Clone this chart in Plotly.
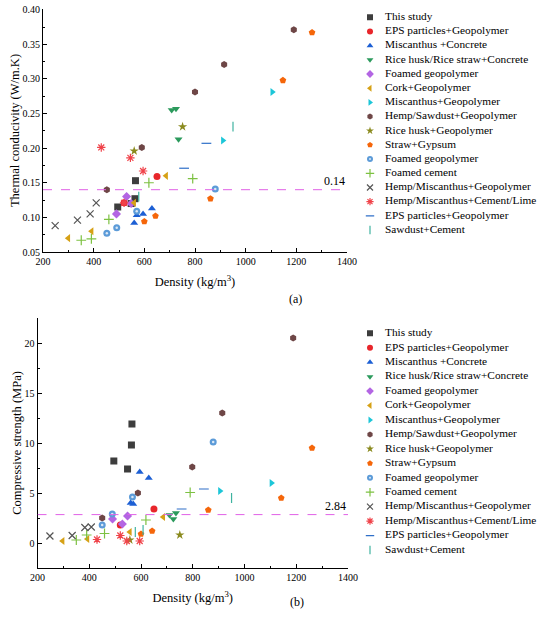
import plotly.graph_objects as go

# legend names, marker symbols and colours (same order in both panels)
names = [
    "This study",
    "EPS particles+Geopolymer",
    "Miscanthus +Concrete",
    "Rice husk/Rice straw+Concrete",
    "Foamed geopolymer",
    "Cork+Geopolymer",
    "Miscanthus+Geopolymer",
    "Hemp/Sawdust+Geopolymer",
    "Rice husk+Geopolymer",
    "Straw+Gypsum",
    "Foamed geopolymer",
    "Foamed cement",
    "Hemp/Miscanthus+Geopolymer",
    "Hemp/Miscanthus+Cement/Lime",
    "EPS particles+Geopolymer",
    "Sawdust+Cement",
]
symbols = ["square", "circle", "triangle-up", "triangle-down", "diamond", "triangle-left",
           "triangle-right", "hexagon", "star", "pentagon", "circle", "cross-thin",
           "x-thin", "asterisk", "line-ew", "line-ns"]
colors = ["#3d3d3d", "#e8262b", "#1c5fd4", "#2b9a5c", "#b365e3", "#d6a116",
          "#1cc6d8", "#6e4646", "#8a8a1e", "#f5660a", "#5c9bd8", "#7dc142",
          "#555555", "#f0434a", "#2f6fc8", "#3fb3a0"]

# (a) thermal conductivity vs density
tc_x = [
    [495, 548, 563, 565],
    [520, 650],
    [560, 570, 595, 630],
    [708, 725, 735],
    [490, 530, 548],
    [300, 392, 560, 686],
    [910, 1105],
    [452, 590, 800, 915, 1190],
    [560, 751],
    [600, 644, 861, 1147, 1262],
    [452, 491, 570, 880],
    [351, 391, 460, 618, 791],
    [248, 336, 386, 410],
    [430, 520, 545, 595],
    [757, 845],
    [578, 950],
]
tc_y = [
    [0.115, 0.120, 0.127, 0.153],
    [0.121, 0.159],
    [0.092, 0.103, 0.105, 0.113],
    [0.255, 0.257, 0.213],
    [0.105, 0.130, 0.120],
    [0.070, 0.080, 0.121, 0.160],
    [0.211, 0.281],
    [0.140, 0.201, 0.281, 0.321, 0.371],
    [0.196, 0.231],
    [0.094, 0.102, 0.127, 0.298, 0.367],
    [0.077, 0.085, 0.109, 0.141],
    [0.067, 0.069, 0.097, 0.150, 0.156],
    [0.088, 0.096, 0.105, 0.121],
    [0.201, 0.121, 0.186, 0.167],
    [0.171, 0.207],
    [0.130, 0.231],
]

# (b) compressive strength vs density
cs_x = [
    [495, 548, 563, 565],
    [520, 650],
    [560, 570, 595, 630],
    [710, 725, 735],
    [490, 528, 548],
    [297, 393, 557, 686],
    [905, 1104],
    [450, 588, 798, 914, 1188],
    [557, 750],
    [600, 643, 860, 1142, 1261],
    [450, 489, 567, 879],
    [350, 390, 459, 619, 790],
    [248, 334, 383, 408],
    [430, 520, 545, 595],
    [757, 843],
    [578, 608, 950],
]
cs_y = [
    [8.2, 7.4, 9.8, 11.9],
    [1.8, 3.4],
    [4.0, 3.9, 7.1, 6.5],
    [2.8, 2.4, 3.0],
    [2.4, 1.9, 2.7],
    [0.2, 0.4, 1.1, 2.6],
    [5.2, 6.0],
    [2.5, 5.0, 7.6, 13.0, 20.5],
    [0.3, 0.8],
    [0.9, 1.2, 3.3, 4.5, 9.5],
    [1.8, 2.9, 4.6, 10.1],
    [0.3, 0.8, 0.95, 2.3, 5.05],
    [0.7, 0.75, 1.55, 1.6],
    [0.35, 0.75, 0.2, 0.2],
    [3.4, 5.4],
    [1.1, 1.3, 4.5],
]

tc_ref = 0.14
cs_ref = 2.84

FONT = "Liberation Serif, Times New Roman, serif"

# page body margin is removed below, so the figure fills the window
W, H = 550, 627


def px(fx):
    return fx / W


def py(fy):
    return 1 - fy / H


thin = {"cross-thin", "x-thin", "asterisk", "line-ew", "line-ns"}
line_w = [1.2 if s in thin else 0 for s in symbols]
dot_idx = 10  # blue foamed geopolymer has a light centre

fig = go.Figure()

for xs, ys, xa, ya in [(tc_x, tc_y, "x", "y"), (cs_x, cs_y, "x2", "y2")]:
    for i, name in enumerate(names):
        fig.add_trace(go.Scatter(
            x=xs[i], y=ys[i], mode="markers", name=name, xaxis=xa, yaxis=ya,
            marker=dict(symbol=symbols[i], size=7, color=colors[i],
                        line=dict(color=colors[i], width=line_w[i])),
        ))
        if i == dot_idx:
            fig.add_trace(go.Scatter(
                x=xs[i], y=ys[i], mode="markers", xaxis=xa, yaxis=ya, hoverinfo="skip",
                marker=dict(symbol="circle", size=2.5, color="#dbe8f6"),
            ))

# legends drawn on their own little axes
rows = list(range(len(names)))
for xa, ya in [("x3", "y3"), ("x4", "y4")]:
    fig.add_trace(go.Scatter(
        x=[20] * len(names), y=rows, mode="markers", xaxis=xa, yaxis=ya, hoverinfo="skip",
        marker=dict(symbol=symbols, size=6, color=colors, line=dict(color=colors, width=line_w)),
    ))
    fig.add_trace(go.Scatter(
        x=[20], y=[dot_idx], mode="markers", xaxis=xa, yaxis=ya, hoverinfo="skip",
        marker=dict(symbol="circle", size=2, color="#dbe8f6"),
    ))
    fig.add_trace(go.Scatter(
        x=[35] * len(names), y=rows, mode="text", text=names, textposition="middle right",
        xaxis=xa, yaxis=ya, hoverinfo="skip", cliponaxis=False,
        textfont=dict(family=FONT, size=11.3, color="black"),
    ))

axis_style = dict(showline=True, linecolor="black", linewidth=1, ticks="inside", ticklen=4,
                  tickcolor="black", showgrid=False, zeroline=False, mirror=False,
                  automargin=False, ticklabeloverflow="allow", tickfont=dict(family=FONT, size=10))
title_font = dict(family=FONT, size=12.5, color="black")
hidden = dict(visible=False, showgrid=False, zeroline=False, automargin=False)

fig.update_layout(
    width=W, height=H,
    margin=dict(l=0, r=0, t=0, b=0, pad=0, autoexpand=False),
    paper_bgcolor="white", plot_bgcolor="white",
    font=dict(family=FONT, size=10, color="black"),
    showlegend=False,
    xaxis=dict(axis_style, domain=[px(43), px(347)], range=[200, 1400], dtick=200, anchor="y",
               minor=dict(ticks="inside", ticklen=2, dtick=100, tickcolor="black"),
               title=dict(text="Density (kg/m<sup>3</sup>)", font=title_font, standoff=11)),
    yaxis=dict(axis_style, domain=[py(252), py(9)], range=[0.05, 0.401], tick0=0.05, dtick=0.05,
               tickformat=".2f", anchor="x",
               minor=dict(ticks="inside", ticklen=2, dtick=0.025, tickcolor="black"),
               title=dict(text="Thermal conducivity (W/m.K)", font=title_font, standoff=0)),
    xaxis2=dict(axis_style, domain=[px(37.5), px(348)], range=[200, 1400], dtick=200, anchor="y2",
                minor=dict(ticks="inside", ticklen=2, dtick=100, tickcolor="black"),
                title=dict(text="Density (kg/m<sup>3</sup>)", font=title_font, standoff=11)),
    yaxis2=dict(axis_style, domain=[py(568), py(318)], range=[-2.5, 22.5], tick0=0, dtick=5,
                anchor="x2",
                minor=dict(ticks="inside", ticklen=2, dtick=2.5, tickcolor="black"),
                title=dict(text="Compressive strength (MPa)", font=title_font, standoff=0)),
    xaxis3=dict(hidden, domain=[px(350), 1.0], range=[0, 200], anchor="y3"),
    yaxis3=dict(hidden, domain=[py(237.1), py(10.2)], range=[15.5, -0.5], anchor="x3"),
    xaxis4=dict(hidden, domain=[px(350), 1.0], range=[0, 200], anchor="y4"),
    yaxis4=dict(hidden, domain=[py(557.2), py(326.1)], range=[15.5, -0.5], anchor="x4"),
)

# reference lines
for ref, xr, yr in [(tc_ref, "x", "y"), (cs_ref, "x2", "y2")]:
    fig.add_shape(type="line", xref=xr, yref=yr, x0=200, x1=1400, y0=ref, y1=ref,
                  line=dict(color="#e060e6", width=1, dash="dash"))
    fig.add_annotation(xref=xr, yref=yr, x=1400, y=ref, text=f"{ref:g}", showarrow=False,
                       xanchor="right", yanchor="bottom", font=dict(family=FONT, size=12))

fig.add_annotation(xref="paper", yref="paper", x=px(295), y=py(299), text="(a)",
                   showarrow=False, font=dict(family=FONT, size=12))
fig.add_annotation(xref="paper", yref="paper", x=px(297), y=py(611), text="(b)",
                   showarrow=False, font=dict(family=FONT, size=12))

fig.write_html("out.html", config={"displayModeBar": False},
               post_script="document.body.style.margin = '0';")
